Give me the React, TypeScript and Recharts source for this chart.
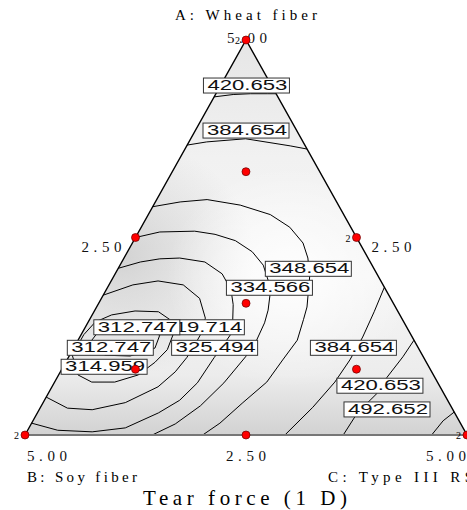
import React from 'react';
import { ComposedChart, Area, Scatter, XAxis, YAxis } from 'recharts';

// every point is a mixture [A wheat fiber, B soy fiber, C type III RS], total 5
const corners = [[0, 5, 0], [5, 0, 0], [0, 0, 5]];

const designPoints = [
  [5, 0, 0], [0, 5, 0], [0, 0, 5],
  [2.5, 2.5, 0], [2.5, 0, 2.5], [0, 2.5, 2.5],
  [1.667, 1.667, 1.667],
  [3.333, 0.833, 0.833], [0.833, 3.333, 0.833], [0.833, 0.833, 3.333],
];
const replicatedPoints = [[5, 0, 0], [2.5, 0, 2.5], [0, 5, 0], [0, 0, 5]];

const tickPoints = [[5, 0, 0], [2.5, 2.5, 0], [2.5, 0, 2.5], [0, 5, 0], [0, 2.5, 2.5], [0, 0, 5]];
const tickTexts = ['5.00', '2.50', '2.50', '5.00', '2.50', '5.00'];

// contour lines of tear force
const c420Top = [[4.28, 0.72, 0], [4.31, 0.49, 0.2], [4.32, 0.29, 0.39], [4.32, 0.1, 0.58], [4.32, 0, 0.68]];
const c385Top = [[3.67, 1.33, 0], [3.71, 1.09, 0.2], [3.75, 0.63, 0.62], [3.66, 0.17, 1.17], [3.62, 0, 1.38]];
const c349 = [
  [2.89, 2.11, 0], [2.95, 1.77, 0.28], [2.98, 1.45, 0.57], [2.91, 1.11, 0.98], [2.79, 0.84, 1.38],
  [2.63, 0.69, 1.68], [2.43, 0.64, 1.93], [2.24, 0.68, 2.08], [2.0, 0.78, 2.22], [1.62, 1.0, 2.38],
  [1.46, 1.13, 2.42], [1.2, 1.32, 2.48], [0.95, 1.61, 2.44], [0.67, 1.93, 2.4], [0.41, 2.33, 2.26],
  [0.15, 2.72, 2.13], [0, 2.99, 2.01],
];
const c335 = [
  [2.5, 2.5, 0], [2.57, 2.19, 0.24], [2.58, 1.79, 0.63], [2.54, 1.58, 0.88], [2.46, 1.4, 1.15],
  [2.32, 1.27, 1.41], [2.15, 1.23, 1.62], [1.96, 1.27, 1.77], [1.76, 1.35, 1.89], [1.58, 1.46, 1.96],
  [1.42, 1.59, 2.0], [1.2, 1.77, 2.02], [0.99, 2.02, 2.0], [0.66, 2.42, 1.92], [0.37, 2.84, 1.8],
  [0.14, 3.23, 1.63], [0, 3.56, 1.44],
];
const c325 = [
  [2.11, 2.89, 0], [2.19, 2.6, 0.21], [2.23, 2.36, 0.41], [2.24, 2.13, 0.63], [2.19, 1.87, 0.94],
  [2.04, 1.75, 1.21], [1.84, 1.75, 1.41], [1.65, 1.82, 1.53], [1.46, 1.92, 1.62], [1.27, 2.05, 1.69],
  [1.11, 2.22, 1.67], [0.98, 2.37, 1.65], [0.66, 2.72, 1.62], [0.44, 3.03, 1.53], [0.28, 3.35, 1.37],
  [0.09, 3.82, 1.09], [0.04, 4.22, 0.74], [0.06, 4.6, 0.34], [0.15, 4.85, 0],
];
const c320 = [
  [1.77, 3.23, 0], [1.9, 2.83, 0.27], [1.95, 2.52, 0.53], [1.9, 2.26, 0.84], [1.73, 2.16, 1.11],
  [1.48, 2.22, 1.3], [1.3, 2.35, 1.35], [1.14, 2.51, 1.35], [0.98, 2.68, 1.34], [0.8, 2.9, 1.3],
  [0.61, 3.19, 1.2], [0.41, 3.66, 0.93], [0.32, 4.08, 0.6], [0.34, 4.35, 0.31], [0.48, 4.52, 0],
];
const c315 = [
  [1.01, 3.96, 0.03], [1.27, 3.7, 0.03], [1.43, 3.49, 0.08], [1.52, 3.26, 0.22], [1.57, 2.97, 0.46],
  [1.56, 2.71, 0.73], [1.46, 2.63, 0.91], [1.27, 2.69, 1.04], [1.08, 2.85, 1.07], [0.92, 3.07, 1.01],
  [0.76, 3.34, 0.9], [0.67, 3.65, 0.68], [0.67, 3.91, 0.42], [0.76, 4.02, 0.22], [1.01, 3.96, 0.03],
];
const c313 = [
  [1.17, 3.68, 0.15], [1.33, 3.49, 0.18], [1.41, 3.22, 0.37], [1.39, 2.95, 0.66], [1.28, 2.83, 0.89],
  [1.1, 2.98, 0.92], [1.0, 3.31, 0.69], [1.01, 3.59, 0.4], [1.17, 3.68, 0.15],
];
const c385Right = [[1.87, 0, 3.13], [1.56, 0.27, 3.17], [1.24, 0.56, 3.2], [0.95, 0.85, 3.2], [0.67, 1.16, 3.17], [0.35, 1.57, 3.08], [0, 2.06, 2.94]];
const c421Right = [[1.2, 0, 3.8], [0.99, 0.23, 3.78], [0.73, 0.54, 3.73], [0.53, 0.75, 3.72], [0.28, 1.1, 3.62], [0, 1.4, 3.6]];
const c493Right = [[0.29, 0, 4.71], [0.18, 0.18, 4.64], [0, 0.4, 4.6]];

const contours = [c420Top, c385Top, c349, c335, c325, c320, c315, c313, c385Right, c421Right, c493Right];

const labelTexts = ['420.653', '384.654', '348.654', '334.566', '319.714', '325.494', '312.747', '312.747', '314.959', '384.654', '420.653', '492.652'];
const labelPoints = [
  [4.43, 0.28, 0.29], [3.86, 0.57, 0.57], [2.11, 0.74, 2.15], [1.87, 1.3, 1.83],
  [1.37, 2.32, 1.31], [1.11, 2.3, 1.59], [1.37, 3.05, 0.58], [1.11, 3.48, 0.41],
  [0.87, 3.67, 0.46], [1.11, 0.73, 3.16], [0.63, 0.67, 3.7], [0.33, 0.73, 3.93],
];

const toXY = (p: number[]) => ({ x: p[2] + p[0] / 2, y: p[0] });

const triangle = corners.map(toXY);
const outline = [corners[0], corners[1], corners[2]].map(toXY);
const baseLine = [corners[0], corners[2]].map(toXY);
const labelData = labelPoints.map((p, i) => ({ ...toXY(p), text: labelTexts[i] }));
const tickData = tickPoints.map((p, i) => ({ ...toXY(p), text: tickTexts[i], idx: i }));

const TICK_OFFSET = [
  { dx: 1, dy: 3 }, { dx: -34, dy: 14 }, { dx: 35, dy: 14 },
  { dx: 22, dy: 26 }, { dx: 0, dy: 26 }, { dx: -21, dy: 26 },
];

const serif = '"Liberation Serif", "Times New Roman", serif';
const sans = '"Liberation Sans", Arial, sans-serif';
const empty = () => <g />;

function ContourLabel(props: any) {
  const { cx, cy, payload } = props;
  return (
    <g>
      <rect x={cx - 43} y={cy - 7} width={86} height={15} fill="#fff" stroke="#333" strokeWidth={1} />
      <text x={cx - 39} y={cy + 5} fontSize={14} fontFamily={sans} textLength={80} lengthAdjust="spacingAndGlyphs" fill="#111">
        {payload.text}
      </text>
    </g>
  );
}

function DesignDot(props: any) {
  return <circle cx={props.cx} cy={props.cy} r={4} fill="#ff0000" stroke="#600" strokeWidth={0.7} />;
}

function RepMark(props: any) {
  return <text x={props.cx - 6} y={props.cy + 4} fontSize={10} fontFamily={serif} textAnchor="end" fill="#000">2</text>;
}

function TickLabel(props: any) {
  const { cx, cy, payload } = props;
  const o = TICK_OFFSET[payload.idx];
  return (
    <text x={cx + o.dx} y={cy + o.dy} fontSize={15} fontFamily={serif} textAnchor="middle" textLength={40} lengthAdjust="spacing" fill="#111">
      {payload.text}
    </text>
  );
}

export default function App() {
  return (
    <div style={{ position: 'relative', width: 467, height: 510, background: '#fff', overflow: 'hidden' }}>
      <style>{'body{margin:0}'}</style>
      <svg width={467} height={510} style={{ position: 'absolute', left: 0, top: 0, pointerEvents: 'none', zIndex: 2 }}>
        <defs>
          <linearGradient id="shadeBase" x1="0" y1="0" x2="0" y2="1">
            <stop offset="0" stopColor="#e6e6e6" />
            <stop offset="0.3" stopColor="#f1f1f1" />
            <stop offset="0.6" stopColor="#f6f6f6" />
            <stop offset="0.85" stopColor="#ececec" />
            <stop offset="1" stopColor="#d2d2d2" />
          </linearGradient>
          <radialGradient id="shadeLeft" cx="0.22" cy="0.55" r="0.3">
            <stop offset="0" stopColor="#c4c4c4" stopOpacity="0.7" />
            <stop offset="1" stopColor="#c4c4c4" stopOpacity="0" />
          </radialGradient>
          <radialGradient id="shadeMid" cx="0.6" cy="0.6" r="0.28">
            <stop offset="0" stopColor="#ffffff" stopOpacity="0.9" />
            <stop offset="1" stopColor="#ffffff" stopOpacity="0" />
          </radialGradient>
        </defs>
        <text x={246} y={20} fontSize={15} fontFamily={serif} textAnchor="middle" textLength={142} lengthAdjust="spacing">A: Wheat fiber</text>
        <text x={27} y={482} fontSize={15} fontFamily={serif} textLength={110} lengthAdjust="spacing">B: Soy fiber</text>
        <text x={328} y={482} fontSize={15} fontFamily={serif} textLength={145} lengthAdjust="spacing">C: Type III RS</text>
        <text x={245} y={505} fontSize={21} fontFamily={serif} textAnchor="middle" textLength={204} lengthAdjust="spacing">Tear force (1 D)</text>
      </svg>
      <ComposedChart width={467} height={510} margin={{ top: 40, right: 0, bottom: 75, left: 25 }} style={{ position: 'absolute', left: 0, top: 0 }}>
        <XAxis type="number" dataKey="x" domain={[0, 5]} hide />
        <YAxis type="number" dataKey="y" domain={[0, 5]} hide />
        <Area data={triangle} dataKey="y" type="linear" baseValue={0} fill="url(#shadeBase)" fillOpacity={1} stroke="none" isAnimationActive={false} />
        <Area data={triangle} dataKey="y" type="linear" baseValue={0} fill="url(#shadeLeft)" fillOpacity={1} stroke="none" isAnimationActive={false} />
        <Area data={triangle} dataKey="y" type="linear" baseValue={0} fill="url(#shadeMid)" fillOpacity={1} stroke="none" isAnimationActive={false} />
        {contours.map((c, i) => (
          <Scatter key={i} data={c.map(toXY)} line={{ stroke: '#000', strokeWidth: 1 }} lineType="joint" shape={empty} isAnimationActive={false} />
        ))}
        <Scatter data={outline} line={{ stroke: '#000', strokeWidth: 1.4 }} lineType="joint" shape={empty} isAnimationActive={false} />
        <Scatter data={baseLine} line={{ stroke: '#777', strokeWidth: 2 }} lineType="joint" shape={empty} isAnimationActive={false} />
        <Scatter data={labelData} shape={ContourLabel} isAnimationActive={false} />
        <Scatter data={tickData} shape={TickLabel} isAnimationActive={false} />
        <Scatter data={replicatedPoints.map(toXY)} shape={RepMark} isAnimationActive={false} />
        <Scatter data={designPoints.map(toXY)} shape={DesignDot} isAnimationActive={false} />
      </ComposedChart>
    </div>
  );
}
